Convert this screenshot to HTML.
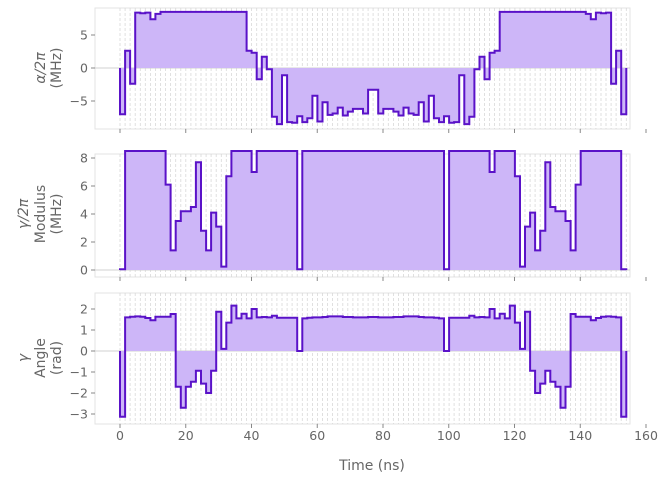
<!DOCTYPE html>
<html><head><meta charset="utf-8"><style>
html,body{margin:0;padding:0;background:#fff}
svg text{font-family:"DejaVu Sans","Liberation Sans",sans-serif;fill:#666;font-size:12.5px}
</style></head><body>
<svg id="s" width="665" height="479" xmlns="http://www.w3.org/2000/svg"></svg>
<script>
function mir(a){var b=a.slice();for(var i=a.length-1;i>=0;i--)b.push(a[i]);return b;}
var alpha=[-7,2.6,-2.4,8.4,8.3,8.4,7.4,8.2];for(var i=0;i<17;i++)alpha.push(8.5);
alpha=alpha.concat([2.6,2.3,-1.7,1.7,-0.2,-7.4,-8.5,-1.1,-8.2,-8.3,-7.3,-8.2,-7.6,-4.2,-8.1,-5.2,-7.1,-6.9,-6.0,-7.2,-6.6,-6.2,-6.2,-6.9,-3.3]);
var mod=[0.05];for(i=0;i<8;i++)mod.push(8.5);
mod=mod.concat([6.1,1.4,3.5,4.2,4.2,4.5,7.7,2.8,1.4,4.1,3.1,0.24,6.7,8.5,8.5,8.5,8.5,7.0]);
for(i=0;i<8;i++)mod.push(8.5);mod.push(0.05);for(i=0;i<14;i++)mod.push(8.5);
var ang=[-3.13,1.6,1.63,1.65,1.63,1.57,1.46,1.63,1.63,1.63,1.76,-1.7,-2.7,-1.7,-1.46,-0.94,-1.55,-2.0,-0.94,1.87,0.1,1.35,2.16,1.55,1.77,1.55,2.0,1.6,1.62,1.6,1.68,1.58,1.58,1.58,1.58,0.0,1.55,1.58,1.6,1.6,1.62,1.65,1.65,1.65,1.62,1.62,1.6,1.6,1.6,1.62];
alpha=mir(alpha);mod=mir(mod);ang=mir(ang);
var X0=120,PX=3.2875,DT=1.54;
function xs(t){return X0+t*PX;}
var out='';
var panels=[
 {d:alpha,top:8,bot:129,y0:68,k:6.6,ticks:[[5,'5'],[0,'0'],[-5,'\u22125']],lab:['\u03b1/2\u03c0','(MHz)'],ly:68},
 {d:mod,top:154,bot:277,y0:270,k:14,ticks:[[8,'8'],[6,'6'],[4,'4'],[2,'2'],[0,'0']],lab:['\u03b3/2\u03c0','Modulus','(MHz)'],ly:214},
 {d:ang,top:293,bot:424,y0:351,k:21,ticks:[[2,'2'],[1,'1'],[0,'0'],[-1,'\u22121'],[-2,'\u22122'],[-3,'\u22123']],lab:['\u03b3','Angle','(rad)'],ly:358}
];
panels.forEach(function(p){
 out+='<rect x="95" y="'+p.top+'" width="535" height="'+(p.bot-p.top)+'" fill="none" stroke="#e3e3e3" stroke-width="1"/>';
 for(var n=0;n<=100;n++){var x=xs(n*DT).toFixed(1);out+='<line x1="'+x+'" x2="'+x+'" y1="'+p.top+'" y2="'+p.bot+'" stroke="#d8d8d8" stroke-width="0.8" stroke-dasharray="3,2"/>';}
 out+='<line x1="95" x2="630" y1="'+p.y0+'" y2="'+p.y0+'" stroke="#d0d0d0" stroke-width="1"/>';
 var path='M'+xs(0)+','+p.y0;
 for(n=0;n<100;n++){var y=(p.y0-p.d[n]*p.k).toFixed(1);path+=' L'+xs(n*DT).toFixed(1)+','+y+' L'+xs((n+1)*DT).toFixed(1)+','+y;}
 path+=' L'+xs(100*DT).toFixed(1)+','+p.y0;
 out+='<path d="'+path+' Z" fill="#cdb6f8" stroke="none"/>';
 out+='<path d="'+path+'" fill="none" stroke="#5a12c8" stroke-width="2" stroke-linejoin="miter"/>';
 p.ticks.forEach(function(t){var y=p.y0-t[0]*p.k;out+='<line x1="91" x2="95" y1="'+y+'" y2="'+y+'" stroke="#888"/><text x="88" y="'+(y+4.5)+'" text-anchor="end">'+t[1]+'</text>';});
 for(var v=0;v<=160;v+=20){var x=xs(v);out+='<line x1="'+x+'" x2="'+x+'" y1="'+p.bot+'" y2="'+(p.bot+4)+'" stroke="#888"/>';}
 var L=p.lab.length, xsL=L==2?[41,57]:[24,41,57];
 p.lab.forEach(function(s,i){var x=xsL[i];var st=(i==0)?'font-style:italic;':'';out+='<text transform="translate('+(x+4)+','+p.ly+') rotate(-90)" text-anchor="middle" style="font-size:14px;'+st+'">'+s+'</text>';});
});
for(var v=0;v<=160;v+=20){out+='<text x="'+xs(v)+'" y="440" text-anchor="middle">'+v+'</text>';}
out+='<text x="372" y="470" text-anchor="middle" style="font-size:14px">Time (ns)</text>';
document.getElementById('s').innerHTML=out;
</script>
</body></html>
